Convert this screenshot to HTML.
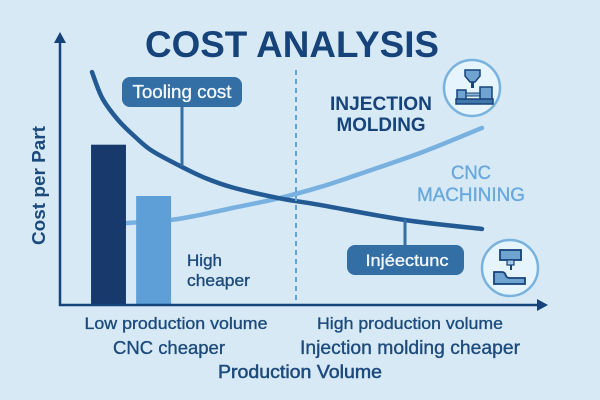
<!DOCTYPE html>
<html>
<head>
<meta charset="utf-8">
<style>
html,body{margin:0;padding:0;background:#d6e9f5;}
svg{display:block;font-family:"Liberation Sans",sans-serif;}
.m{stroke-width:.35;paint-order:stroke;}
.s{stroke-width:.5;paint-order:stroke;}
</style>
</head>
<body>
<svg id="chart" width="600" height="400" viewBox="0 0 600 400" xmlns="http://www.w3.org/2000/svg">
<rect width="600" height="400" fill="#d6e9f5"/>
<text x="292" y="57" text-anchor="middle" font-size="37.5" font-weight="700" fill="#17437b" textLength="294" lengthAdjust="spacingAndGlyphs">COST ANALYSIS</text>
<g id="curves"></g>
<g id="bars"></g>
<line x1="296" y1="70" x2="296" y2="304" stroke="#62a5dc" stroke-width="2" stroke-dasharray="5 4"/>
<line x1="60" y1="306" x2="60" y2="40" stroke="#17437b" stroke-width="2.5"/>
<polygon points="60,32 54,43 66,43" fill="#17437b"/>
<line x1="59" y1="305" x2="538" y2="305" stroke="#17437b" stroke-width="2.5"/>
<polygon points="548,305 537,299 537,311" fill="#17437b"/>
<text transform="translate(45,245) rotate(-90)" font-size="18.5" font-weight="700" fill="#1d4a7c" textLength="119" lengthAdjust="spacingAndGlyphs">Cost per Part</text>
<line x1="182" y1="106" x2="182" y2="166" stroke="#336ea5" stroke-width="3"/>
<rect x="122" y="77" width="120" height="30" rx="8" fill="#336ea5"/>
<text class="m" stroke="#f2f8fc" x="182" y="98" text-anchor="middle" font-size="18" fill="#f2f8fc" textLength="99" lengthAdjust="spacingAndGlyphs">Tooling cost</text>
<line x1="405" y1="219" x2="405" y2="246" stroke="#336ea5" stroke-width="3"/>
<rect x="347" y="245" width="117" height="30" rx="8" fill="#336ea5"/>
<text class="m" stroke="#f2f8fc" x="407" y="266" text-anchor="middle" font-size="17" fill="#f2f8fc" textLength="83" lengthAdjust="spacingAndGlyphs">Injéectunc</text>
<text x="381" y="110" text-anchor="middle" font-size="19" font-weight="700" fill="#17437b" textLength="102" lengthAdjust="spacingAndGlyphs">INJECTION</text>
<text x="381" y="131" text-anchor="middle" font-size="19" font-weight="700" fill="#17437b" textLength="89" lengthAdjust="spacingAndGlyphs">MOLDING</text>
<text class="m" stroke="#68a8de" x="471" y="179" text-anchor="middle" font-size="19" fill="#68a8de" textLength="40" lengthAdjust="spacingAndGlyphs">CNC</text>
<text class="m" stroke="#68a8de" x="471" y="201" text-anchor="middle" font-size="19" fill="#68a8de" textLength="108" lengthAdjust="spacingAndGlyphs">MACHINING</text>
<text class="m" stroke="#1d4a7c" x="187" y="266" font-size="16.5" fill="#1d4a7c" textLength="35" lengthAdjust="spacingAndGlyphs">High</text>
<text class="m" stroke="#1d4a7c" x="187" y="286" font-size="16.5" fill="#1d4a7c" textLength="63" lengthAdjust="spacingAndGlyphs">cheaper</text>
<text class="m" stroke="#1d4a7c" x="176" y="329" text-anchor="middle" font-size="17" fill="#1d4a7c" textLength="183" lengthAdjust="spacingAndGlyphs">Low production volume</text>
<text class="m" stroke="#1d4a7c" x="169" y="354" text-anchor="middle" font-size="18.5" fill="#1d4a7c" textLength="112" lengthAdjust="spacingAndGlyphs">CNC cheaper</text>
<text class="m" stroke="#1d4a7c" x="410" y="329" text-anchor="middle" font-size="17" fill="#1d4a7c" textLength="186" lengthAdjust="spacingAndGlyphs">High production volume</text>
<text class="m" stroke="#1d4a7c" x="410" y="354" text-anchor="middle" font-size="19" fill="#1d4a7c" textLength="220" lengthAdjust="spacingAndGlyphs">Injection molding cheaper</text>
<text class="s" stroke="#1d4a7c" x="300" y="378" text-anchor="middle" font-size="18" fill="#1d4a7c" textLength="164" lengthAdjust="spacingAndGlyphs">Production Volume</text>

<g>
<circle cx="472" cy="88" r="28" fill="#e6f5fd" stroke="#7ab2de" stroke-width="2.5"/>
<polygon points="465,70 480,70 480,76 475,82 470,82 465,76" fill="#6fa3d0" stroke="#17437b" stroke-width="1.5"/>
<rect x="471" y="82" width="3" height="6" fill="#17437b"/>
<rect x="457" y="90" width="9" height="10" fill="#6fa3d0" stroke="#17437b" stroke-width="1.5"/>
<rect x="466" y="93" width="14" height="3" fill="#8db8da" stroke="#17437b" stroke-width="1"/>
<rect x="480" y="87" width="12" height="13" fill="#6fa3d0" stroke="#17437b" stroke-width="1.5"/>
<rect x="456" y="99" width="37" height="5" fill="#3f77ab" stroke="#17437b" stroke-width="1.5"/>
</g>
<g>
<circle cx="510" cy="268" r="28" fill="#e6f5fd" stroke="#7ab2de" stroke-width="2.5"/>
<rect x="500" y="250" width="21" height="10" fill="#6fa3d0" stroke="#17437b" stroke-width="1.8"/>
<rect x="507" y="260" width="7" height="5" fill="#a5c8e4" stroke="#17437b" stroke-width="1.2"/>
<rect x="510" y="265" width="2" height="5" fill="#17437b"/>
<path d="M494,272 L502,272 Q505,272 506,276 Q507,278 510,278 L525,278 L525,284 L494,284 Z" fill="#6fa3d0" stroke="#17437b" stroke-width="1.8"/>
</g>
</svg>
<script>
var barCategories = ['injection-molding-low-volume', 'cnc-low-volume'];
var barValues = [59, 40];
var barColors = ['#17396b', '#5f9fd8'];
var toolingVolumes = [6.6, 8.7, 12, 15.5, 19, 25.2, 29.9, 35.7, 45.4, 53.6, 71.1, 87];
var toolingCosts = [85.9, 76.3, 68.1, 61.9, 56.7, 50.7, 46.7, 43.1, 39.1, 36.7, 31.1, 27.8];
var cncVolumes = [8.2, 13.8, 22.7, 28.9, 35.7, 45.4, 53.6, 61.2, 74.8, 87];
var cncCosts = [29.6, 30, 31.1, 33, 35.6, 39.3, 43.3, 47.8, 56.3, 65.2];

var svg = document.getElementById('chart');
var NS = 'http://www.w3.org/2000/svg';
function xScale(v) { return 60 + v * 4.85; }
function yScale(c) { return 304 - c * 2.7; }

function smoothPath(xs, ys) {
  var p = xs.map(function (x, i) { return [xScale(x), yScale(ys[i])]; });
  var d = 'M' + p[0][0] + ',' + p[0][1];
  for (var i = 0; i < p.length - 1; i++) {
    var a = p[Math.max(i - 1, 0)], b = p[i], c = p[i + 1], e = p[Math.min(i + 2, p.length - 1)];
    d += ' C' + (b[0] + (c[0] - a[0]) / 6) + ',' + (b[1] + (c[1] - a[1]) / 6) + ' ' +
         (c[0] - (e[0] - b[0]) / 6) + ',' + (c[1] - (e[1] - b[1]) / 6) + ' ' + c[0] + ',' + c[1];
  }
  return d;
}

var curves = document.getElementById('curves');
var cncLine = document.createElementNS(NS, 'path');


cncLine.setAttribute('d', smoothPath(cncVolumes, cncCosts));
cncLine.setAttribute('fill', 'none');
cncLine.setAttribute('stroke', '#78b1e0');
cncLine.setAttribute('stroke-width', '4.5');
cncLine.setAttribute('stroke-linecap', 'round');
curves.appendChild(cncLine);

var toolingLine = document.createElementNS(NS, 'path');


toolingLine.setAttribute('d', smoothPath(toolingVolumes, toolingCosts));
toolingLine.setAttribute('fill', 'none');
toolingLine.setAttribute('stroke', '#245a94');
toolingLine.setAttribute('stroke-width', '4.5');
toolingLine.setAttribute('stroke-linecap', 'round');
curves.appendChild(toolingLine);

var bars = document.getElementById('bars');
var barStart = 6.4, barWidth = 7.2, barStep = 9.3;
barValues.forEach(function (value, i) {
  var r = document.createElementNS(NS, 'rect');
  
  
  var left = xScale(barStart + i * barStep);
  r.setAttribute('x', left);
  r.setAttribute('y', yScale(value));
  r.setAttribute('width', xScale(barStart + i * barStep + barWidth) - left);
  r.setAttribute('height', yScale(0) - yScale(value));
  r.setAttribute('fill', barColors[i]);
  bars.appendChild(r);
});
</script>
</body>
</html>
